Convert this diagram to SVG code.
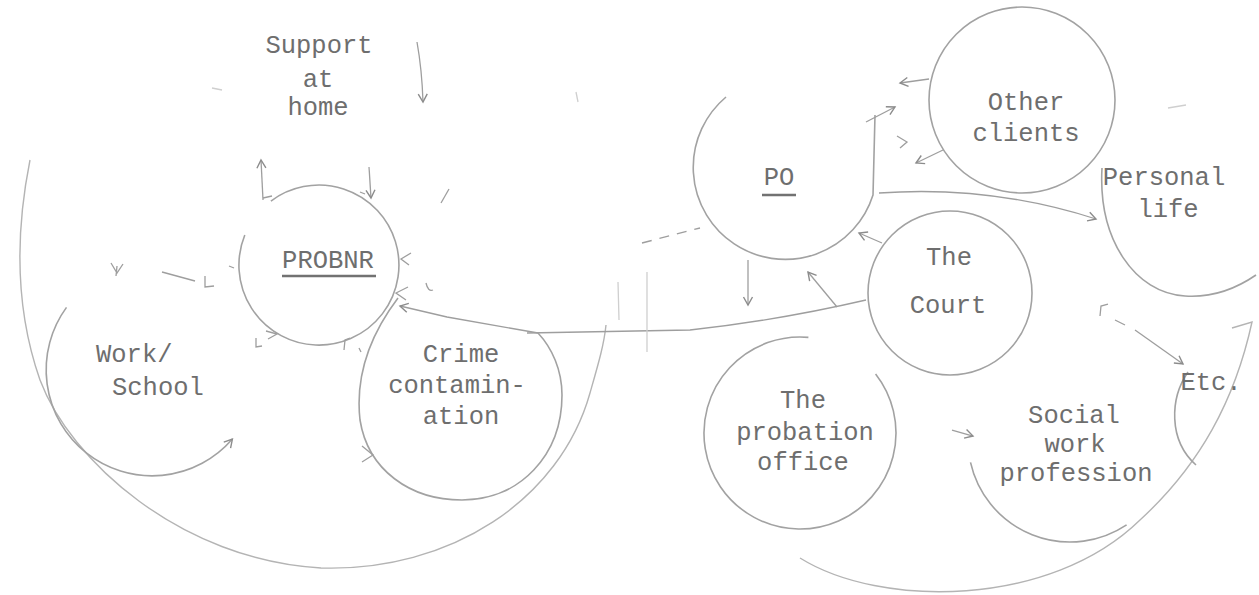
<svg xmlns="http://www.w3.org/2000/svg" width="1259" height="595" viewBox="0 0 1259 595">
<defs>
<marker id="ah" viewBox="0 0 12 12" refX="10" refY="6" markerWidth="12" markerHeight="12" markerUnits="userSpaceOnUse" orient="auto"><path d="M2,1.5 L10,6 L2,10.5" fill="none" stroke="#8c8c8c" stroke-width="1.4"/></marker>
</defs>
<style>
.t{font-family:"Liberation Mono","Courier New",monospace;font-size:25.5px;fill:#6e6e6e;text-anchor:middle}
.ts{text-anchor:start}
.c{fill:none;stroke:#a2a2a2;stroke-width:1.6}
.big{fill:none;stroke:#b4b4b4;stroke-width:1.4}
.k{fill:none;stroke:#9e9e9e;stroke-width:1.3}
.f{fill:none;stroke:#cfcfcf;stroke-width:1.3}
.u{stroke:#727272;stroke-width:2.4}
</style>
<rect width="1259" height="595" fill="#ffffff"/>

<g id="boundaries">
<path class="big" d="M30,160 C18,220 12,300 40,380 C70,460 180,560 321,568 C450,572 560,500 590,393 C598,365 604,345 606,325"/>
<path class="big" d="M800,558 C880,608 1050,608 1140,520 C1200,465 1235,400 1252,322 L1232,328"/>
</g>

<g id="node-support">
<text class="t" x="319" y="53">Support</text>
<text class="t" x="318" y="87">at</text>
<text class="t" x="318" y="115">home</text>
</g>

<g id="node-probnr">
<path class="c" d="M270.9,201.1 A80,80 0 1,1 244.8,235"/>
<text class="t" x="328" y="268">PROBNR</text>
<line class="u" x1="282" y1="276" x2="376" y2="276"/>
</g>

<g id="node-work">
<path class="c" d="M66.5,307.4 A106,106 0 0,0 232.4,439.1" marker-end="url(#ah)"/>
<text class="t ts" x="96" y="362">Work/</text>
<text class="t ts" x="112" y="395">School</text>
</g>

<g id="node-crime">
<path class="c" d="M398,298 C370,335 355,375 360,420 C368,470 410,500 462,500 C520,500 562,455 562,395 C562,370 552,348 538,333"/>
<text class="t" x="461" y="362">Crime</text>
<text class="t" x="457" y="393">contamin-</text>
<text class="t" x="461" y="424">ation</text>
</g>

<g id="node-po">
<path class="c" d="M726,97 A92,92 0 1,0 873,195 L875,115"/>
<text class="t" x="779" y="185">PO</text>
<line class="u" x1="762" y1="195" x2="796" y2="195"/>
</g>

<g id="node-other">
<circle class="c" cx="1022" cy="100" r="93"/>
<text class="t" x="1026" y="110">Other</text>
<text class="t" x="1026" y="141">clients</text>
</g>

<g id="node-personal">
<path class="c" d="M1102,168 C1098,240 1135,293 1185,296 C1215,298 1240,286 1256,275"/>
<text class="t" x="1164" y="185">Personal</text>
<text class="t" x="1168" y="217">life</text>
</g>

<g id="node-court">
<circle class="c" cx="950" cy="293" r="82"/>
<text class="t" x="949" y="265">The</text>
<text class="t" x="948" y="313">Court</text>
</g>

<g id="node-probation">
<path class="c" d="M875.6,373.9 A96,96 0 1,1 808.4,337.4"/>
<text class="t" x="803" y="408">The</text>
<text class="t" x="805" y="440">probation</text>
<text class="t" x="803" y="470">office</text>
</g>

<g id="node-social">
<path class="c" d="M970.5,462.4 A102,102 0 0,0 1126.6,524.9"/>
<text class="t" x="1074" y="423">Social</text>
<text class="t" x="1075" y="452">work</text>
<text class="t" x="1076" y="481">profession</text>
</g>

<g id="node-etc">
<path class="c" d="M1188,372 C1170,398 1168,440 1196,465"/>
<text class="t" x="1211" y="390">Etc.</text>
</g>

<g id="connectors">
<path class="k" d="M417,42 Q422,70 423,102" marker-end="url(#ah)"/>
<path class="k" d="M263,200 L261,160" marker-end="url(#ah)"/>
<path class="k" d="M263,198 L272,196"/>
<path class="k" d="M369,167 L371,198" marker-end="url(#ah)"/>
<path class="k" d="M360,192 L365,194"/>
<path class="k" d="M162,272 L195,281"/>
<path class="k" d="M111,263 L117,273 L123,264 M117,266 L116,276"/>
<path class="k" d="M205,276 L205,287 L214,286"/>
<path class="k" d="M229,266 L234,268"/>
<path class="k" d="M538,333 L447,317 L400,306" marker-end="url(#ah)"/>
<path class="k" d="M411,253 L401,259 L409,265 M408,287 L396,293 L406,300"/>
<path class="k" d="M426,283 Q428,292 433,290"/>
<path class="k" d="M362,446 L373,455 L362,462"/>
<path class="k" d="M527,333 L690,330 Q780,320 866,300"/>
<path class="f" d="M618,282 L619,320 M647,272 L647,352"/>
<path class="k" d="M642,243 L700,228" stroke-dasharray="10,8"/>
<path class="k" d="M748,260 L748,305" marker-end="url(#ah)"/>
<path class="k" d="M837,307 L808,272" marker-end="url(#ah)"/>
<path class="k" d="M882,243 L859,233" marker-end="url(#ah)"/>
<path class="k" d="M866,122 L895,107" marker-end="url(#ah)"/>
<path class="k" d="M929,79 L900,83" marker-end="url(#ah)"/>
<path class="k" d="M897,136 L907,142 L900,148"/>
<path class="k" d="M943,150 L916,163" marker-end="url(#ah)"/>
<path class="k" d="M879,193 Q990,185 1096,219" marker-end="url(#ah)"/>
<path class="f" d="M1168,108 L1186,105"/>
<path class="k" d="M1100,316 L1101,306 L1108,304 M1115,320 L1125,325"/>
<path class="k" d="M1135,330 L1183,364" marker-end="url(#ah)"/>
<path class="k" d="M952,430 L973,436" marker-end="url(#ah)"/>
<path class="f" d="M212,88 L222,90"/>
<path class="k" d="M441,203 L449,189"/>
<path class="f" d="M576,92 L578,102"/>
<path class="k" d="M256,338 L256,347 L262,346 M266,331 L277,334 L268,339"/>
<path class="k" d="M344,350 L345,340 L350,338 M359,348 L361,352"/>
</g>
</svg>
